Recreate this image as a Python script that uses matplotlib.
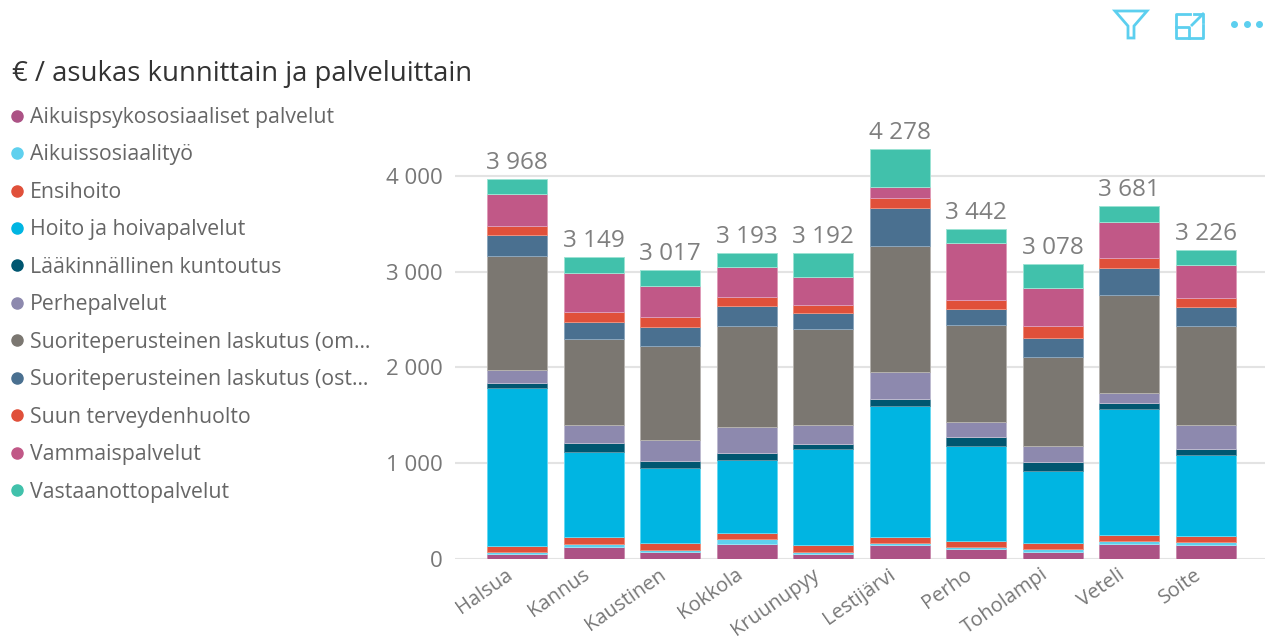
import numpy as np
import matplotlib
matplotlib.use('Agg')
import matplotlib.pyplot as plt
from matplotlib.lines import Line2D
from matplotlib.patches import Polygon
from matplotlib.transforms import ScaledTranslation

plt.rcParams['font.family'] = ['Open Sans', 'DejaVu Sans']

kunnat = ['Halsua', 'Kannus', 'Kaustinen', 'Kokkola', 'Kruunupyy', 'Lestijärvi',
          'Perho', 'Toholampi', 'Veteli', 'Soite']

palvelut = ['Aikuispsykososiaaliset palvelut', 'Aikuissosiaalityö', 'Ensihoito',
            'Hoito ja hoivapalvelut', 'Lääkinnällinen kuntoutus', 'Perhepalvelut',
            'Suoriteperusteinen laskutus (om…', 'Suoriteperusteinen laskutus (ost…',
            'Suun terveydenhuolto', 'Vammaispalvelut', 'Vastaanottopalvelut']

aikuispsyk = [52, 129, 70, 160, 52, 143, 101, 70, 157, 143]
aikuissos = [21, 31, 27, 49, 25, 21, 21, 31, 31, 34]
ensihoito = [59, 66, 67, 66, 66, 66, 62, 69, 66, 67]
hoito = [1650, 894, 789, 759, 1002, 1367, 992, 752, 1308, 838]
laakinnal = [59, 87, 73, 69, 59, 70, 94, 87, 70, 70]
perhe = [132, 191, 220, 278, 194, 285, 164, 171, 101, 246]
suorite_om = [1190, 899, 978, 1055, 1003, 1319, 1005, 925, 1020, 1038]
suorite_ost = [216, 177, 202, 205, 171, 390, 167, 202, 282, 198]
suun = [94, 101, 100, 91, 83, 104, 101, 129, 111, 94]
vammais = [341, 407, 321, 320, 286, 119, 588, 397, 372, 338]
vastaanotto = [154, 167, 170, 141, 251, 394, 147, 245, 163, 160]

sarjat = [aikuispsyk, aikuissos, ensihoito, hoito, laakinnal, perhe,
          suorite_om, suorite_ost, suun, vammais, vastaanotto]
varit = ['#AC5285', '#5FD0EE', '#E0503A', '#00B5E2', '#005670', '#8D89AE',
         '#7B7771', '#4A7090', '#E0503A', '#C15887', '#41C1AB']
reunat = ['#C98BAE', '#9BE3F5', '#EE8F7D', '#66D8F2', '#5A93A5', '#BDBACF',
          '#B5B2AE', '#8CA6BC', '#EE8F7D', '#DE9BB8', '#9BE3D3']

W, H = 1271, 641
fig = plt.figure(figsize=(W / 100, H / 100), dpi=100, facecolor='white')

# plot area in pixels: x 455-1265, y 100-559
ax = fig.add_axes([455 / W, 1 - 559 / H, 810 / W, 459 / H])
x = np.arange(len(kunnat))
pohja = np.zeros(len(kunnat))
for arvot, vari, reuna in zip(sarjat, varit, reunat):
    ax.bar(x, arvot, 0.784, bottom=pohja, color=vari, edgecolor=reuna, linewidth=0.7, zorder=3)
    pohja += np.array(arvot)

for i, summa in enumerate(pohja):
    ax.annotate(f'{int(summa):,}'.replace(',', ' '), (i, summa), xytext=(0, 3),
                textcoords='offset points', ha='center', va='bottom',
                fontsize=17.5, color='#7F7F7F', annotation_clip=False, zorder=4)

ax.set_xlim(-0.814, 9.774)
ax.set_ylim(0, 4791)
ax.set_yticks([0, 1000, 2000, 3000, 4000], ['0', '1 000', '2 000', '3 000', '4 000'])
ax.set_xticks(x)
ax.set_xticklabels(kunnat, rotation=35, ha='right', rotation_mode='anchor')
ax.tick_params(axis='y', length=0, labelsize=16, labelcolor='#777777', pad=9)
ax.tick_params(axis='x', length=0, labelsize=14.5, labelcolor='#777777', pad=4)
siirto = ScaledTranslation(-12 / 100, 0, fig.dpi_scale_trans)
for t in ax.get_xticklabels():
    t.set_transform(t.get_transform() + siirto)
ax.grid(axis='y', color='#E3E3E3', linewidth=1.5, zorder=0)
ax.set_axisbelow(True)
for s in ax.spines.values():
    s.set_visible(False)

kahvat = [Line2D([], [], linestyle='none', marker='o', markersize=8, color=v) for v in varit]
fig.legend(kahvat, palvelut, loc='upper left', bbox_to_anchor=(6.5 / W, 1 - 107 / H),
           frameon=False, fontsize=15.3, labelcolor='#666666', handlelength=1, handletextpad=0.12,
           labelspacing=0.775, borderaxespad=0, borderpad=0)

fig.text(12 / W, 1 - 73.5 / H, '€ / asukas kunnittain ja palveluittain', fontsize=19.8,
         color='#333333', va='center', ha='left')

# header icons, pixel coords
ik = fig.add_axes([0, 0, 1, 1], facecolor='none')
ik.set_xlim(0, W)
ik.set_ylim(H, 0)
ik.axis('off')
sin = '#5CCFEF'
ik.add_patch(Polygon([(1115, 11), (1147, 11), (1134, 26), (1134, 38), (1128, 38), (1128, 26)],
                     closed=True, fill=False, edgecolor=sin, linewidth=2))
ik.plot([1190, 1176, 1176, 1203, 1203], [14, 14, 38, 38, 25], color=sin, linewidth=2)
ik.plot([1176, 1189, 1189], [27, 27, 38], color=sin, linewidth=2)
ik.plot([1192, 1203], [25, 14], color=sin, linewidth=2)
ik.plot([1194, 1203, 1203], [14, 14, 22], color=sin, linewidth=2)
ik.plot([1234, 1247, 1259], [24, 24, 24], linestyle='none', marker='o', markersize=4, color=sin)

plt.savefig('out.png', dpi=100)
